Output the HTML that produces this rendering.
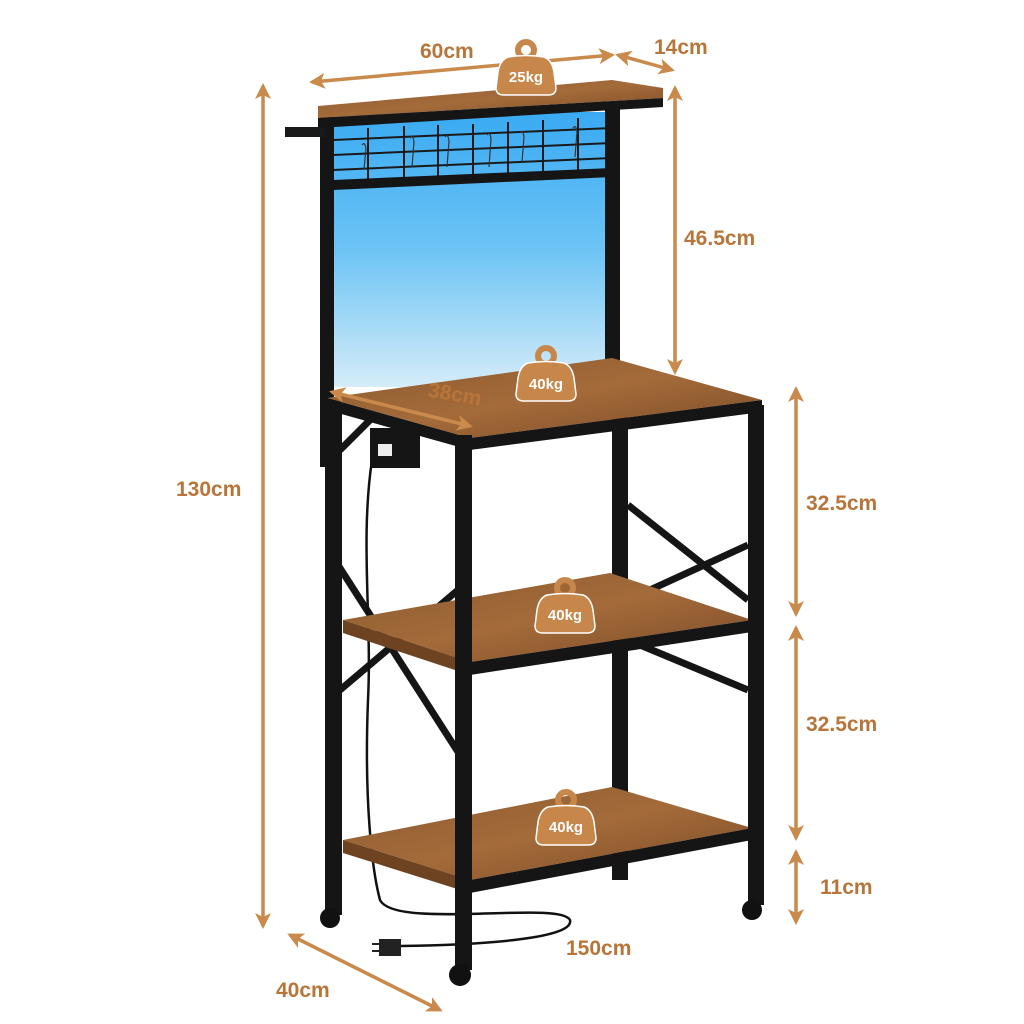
<!DOCTYPE html>
<html><head><style>html,body{margin:0;padding:0;background:#fff}svg{display:block}</style></head>
<body>
<svg width="1024" height="1024" viewBox="0 0 1024 1024" xmlns="http://www.w3.org/2000/svg">
<defs>
<linearGradient id="blue" x1="0" y1="0" x2="0" y2="1">
<stop offset="0" stop-color="#3aaaf2"/><stop offset="0.5" stop-color="#6cc4f5"/><stop offset="1" stop-color="#d5ecf8"/>
</linearGradient>
<linearGradient id="wood" x1="0" y1="0" x2="1" y2="1">
<stop offset="0" stop-color="#8a5a30"/><stop offset="0.5" stop-color="#a46b3a"/><stop offset="1" stop-color="#7a4a26"/>
</linearGradient>
<marker id="ah" markerWidth="18" markerHeight="18" refX="13" refY="8" orient="auto-start-reverse" markerUnits="userSpaceOnUse">
<path d="M0,0 L16,8 L0,16 L4,8 Z" fill="#c98a4b"/>
</marker>
<g id="kb">
<circle cx="0" cy="-22" r="8" fill="none" stroke="#c8874a" stroke-width="6"/>
<path d="M-18,-15 Q0,-18 18,-15 Q26,-12 28,0 L30,16 Q30,23 22,23 L-22,23 Q-30,23 -30,16 L-28,0 Q-26,-12 -18,-15 Z" fill="#c8874a" stroke="#fff" stroke-width="1.5"/>
</g>
</defs>
<rect width="1024" height="1024" fill="#fff"/>

<rect x="330" y="112" width="280" height="275" fill="url(#blue)"/>
<g stroke="#1a1a1a" stroke-width="2" fill="none">
<path d="M333,140 L612,128 M333,155 L612,143 M333,170 L612,158"/>
<path d="M368,128 L368,182 M404,126 L404,180 M438,125 L438,178 M473,124 L473,177 M508,122 L508,175 M543,120 L543,173 M578,118 L578,171"/>
</g>
<path d="M333,180 L612,168 L612,177 L333,190 Z" fill="#151515"/>
<g stroke="#333" stroke-width="1.2" fill="none">
<path d="M362,145 q3,-4 4,4 l-2,20"/><path d="M410,138 q3,-4 4,4 l-2,25"/><path d="M445,137 q3,-4 4,4 l-2,26"/><path d="M487,135 q3,-4 4,4 l-2,28"/><path d="M520,133 q3,-4 4,4 l-2,25"/><path d="M573,128 q3,-4 4,4 l-2,25"/>
</g>
<rect x="320" y="112" width="14" height="355" fill="#151515"/>
<rect x="605" y="105" width="15" height="270" fill="#151515"/>
<rect x="285" y="127" width="40" height="10" fill="#1a1a1a"/>
<path d="M318,106 L612,80 L663,88 L663,98 L318,118 Z" fill="url(#wood)"/>
<path d="M318,118 L663,98 L663,107 L318,128 Z" fill="#151515"/>

<rect x="325" y="400" width="17" height="515" fill="#151515"/>
<rect x="612" y="410" width="16" height="470" fill="#151515"/>
<g stroke="#151515" stroke-width="7">
<path d="M340,450 L370,420 M338,565 L460,755 M340,690 L458,590"/>
<path d="M628,505 L748,600 M628,600 L748,545 M628,640 L748,690"/>
</g>
<path d="M372,460 C360,540 372,620 368,700 C364,800 372,870 380,900 C395,930 560,900 570,920 C575,940 470,945 400,946" stroke="#111" stroke-width="2.5" fill="none"/>
<path d="M380,940 L400,940 L400,955 L380,955 Z M372,944 L380,944 M372,951 L380,951" fill="#222" stroke="#222" stroke-width="2"/>

<path d="M327,398 L612,358 L762,400 L470,438 Z" fill="url(#wood)"/>
<path d="M327,398 L470,438 L470,450 L327,410 Z" fill="#151515"/>
<path d="M470,438 L762,400 L762,412 L470,450 Z" fill="#151515"/>
<rect x="370" y="428" width="50" height="40" fill="#151515"/>
<rect x="378" y="444" width="14" height="12" fill="#eee"/>

<path d="M343,620 L610,573 L752,620 L470,662 Z" fill="url(#wood)"/>
<path d="M470,662 L752,620 L752,632 L470,675 Z" fill="#151515"/>
<path d="M343,620 L470,662 L470,675 L343,633 Z" fill="#6e4322"/>
<path d="M343,840 L612,787 L752,828 L470,880 Z" fill="url(#wood)"/>
<path d="M470,880 L752,828 L752,840 L470,893 Z" fill="#151515"/>
<path d="M343,840 L470,880 L470,893 L343,853 Z" fill="#6e4322"/>

<rect x="455" y="435" width="17" height="535" fill="#151515"/>
<rect x="748" y="405" width="16" height="500" fill="#151515"/>
<g fill="#111"><circle cx="330" cy="918" r="10"/><circle cx="460" cy="975" r="11"/><circle cx="752" cy="910" r="10"/></g>

<g stroke="#c98a4b" stroke-width="3.5" fill="none" marker-start="url(#ah)" marker-end="url(#ah)">
<line x1="312" y1="82" x2="612" y2="55"/>
<line x1="618" y1="55" x2="672" y2="70"/>
<line x1="675" y1="88" x2="675" y2="372"/>
<line x1="263" y1="86" x2="263" y2="926"/>
<line x1="332" y1="392" x2="470" y2="426"/>
<line x1="796" y1="389" x2="796" y2="614"/>
<line x1="796" y1="628" x2="796" y2="838"/>
<line x1="796" y1="852" x2="796" y2="922"/>
<line x1="290" y1="935" x2="440" y2="1010"/>
</g>
<g font-family="Liberation Sans, sans-serif" font-weight="bold" font-size="21" fill="#b8753a">
<text x="420" y="58">60cm</text>
<text x="654" y="54">14cm</text>
<text x="684" y="245">46.5cm</text>
<text x="176" y="496">130cm</text>
<text x="428" y="402" transform="rotate(10 460 395)">38cm</text>
<text x="806" y="510">32.5cm</text>
<text x="806" y="731">32.5cm</text>
<text x="820" y="894">11cm</text>
<text x="566" y="955">150cm</text>
<text x="276" y="997">40cm</text>
</g>
<use href="#kb" x="526" y="72"/>
<use href="#kb" x="546" y="378"/>
<use href="#kb" x="565" y="610"/>
<use href="#kb" x="566" y="822"/>
<g font-family="Liberation Sans, sans-serif" font-weight="bold" font-size="15" fill="#fff" text-anchor="middle">
<text x="526" y="82">25kg</text>
<text x="546" y="389">40kg</text>
<text x="565" y="620">40kg</text>
<text x="566" y="832">40kg</text>
</g>
</svg>
</body></html>
